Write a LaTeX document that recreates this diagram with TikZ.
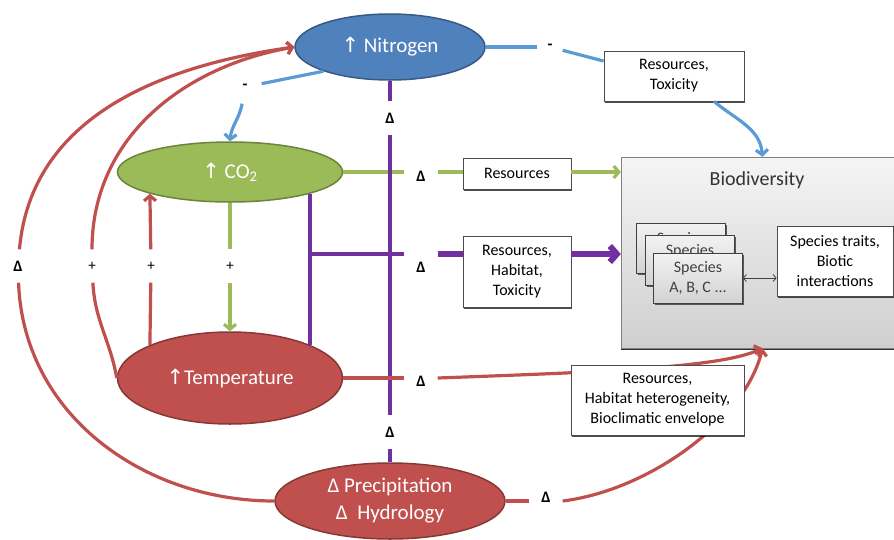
\documentclass[tikz,border=0pt]{standalone}
\usepackage{fontspec}
\setmainfont{Carlito}
\newfontfamily\arrfont{DejaVu Sans}
\usepackage{tikz}
\usetikzlibrary{shapes.geometric,arrows.meta,shadows,calc}
\definecolor{nblue}{HTML}{4F81BD}
\definecolor{lblue}{HTML}{5B9BD5}
\definecolor{cgreen}{HTML}{9BBB59}
\definecolor{tred}{HTML}{C0504D}
\definecolor{vpurple}{HTML}{7030A0}
\newcommand{\uparr}{{\arrfont ↑}}

\begin{document}
\begin{tikzpicture}[x=1pt, y=-1pt,
  ell/.style = {ellipse, draw=#1!70!black, fill=#1, line width=1.5pt, text=white, font=\fontsize{21}{27}\selectfont, align=center, inner sep=0pt},
  box/.style = {draw=black!70, fill=white, line width=0.8pt, align=center, font=\fontsize{16}{20}\selectfont, drop shadow={shadow xshift=1pt, shadow yshift=-1.5pt, fill=black, opacity=0.7}},
  spbox/.style = {draw=black!75, line width=0.8pt, top color=gray!10, bottom color=gray!35, minimum width=89pt, minimum height=50pt, text=black!75, align=center, font=\fontsize{16}{20}\selectfont, drop shadow={shadow xshift=1pt, shadow yshift=-1.5pt, fill=black, opacity=0.6}},
  splab/.style = {anchor=center, yshift=-17pt, text=black!75, font=\fontsize{16}{20}\selectfont},
  sym/.style = {minimum size=33pt, inner sep=0pt, font=\fontsize{16}{16}\selectfont\bfseries},
  blu/.style = {draw=lblue, line width=3.2pt},
  grn/.style = {draw=cgreen, line width=3.2pt},
  rd/.style = {draw=tred, line width=3.2pt},
  pur/.style = {draw=vpurple, line width=4pt},
  tip/.style = {-{Straight Barb[length=5pt,width=12pt]}}]
\useasboundingbox (0,0) rectangle (894,539);
\node[ell=nblue, minimum width=190pt, minimum height=66pt] (nit) at (390,47) {\uparr{} Nitrogen};
\node[ell=cgreen, minimum width=225pt, minimum height=60pt] (co2) at (230,172) {\uparr{} CO\textsubscript{2}};
\node[ell=tred, minimum width=225pt, minimum height=92pt] (temp) at (230,378) {\uparr Temperature};
\node[ell=tred, minimum width=230pt, minimum height=76pt] (prec) at (390,501) {Δ Precipitation\\Δ~~Hydrology};
\node[draw=black!50, top color=gray!8, bottom color=gray!38, minimum width=273pt, minimum height=191pt, drop shadow={shadow xshift=0pt, shadow yshift=-2pt, fill=black, opacity=0.8}] (bio) at (757.5,252.5) {};
\node[font=\fontsize{20}{24}\selectfont, text=black!80] (biot) at (757,180) {Biodiversity};
\node[spbox, label={[splab]north:Species}] (sp1) at (681,248) {};
\node[spbox, label={[splab]north:Species}] (sp2) at (690,260) {};
\node[spbox] (sp3) at (698,278) {Species\\A, B, C ...};
\node[box, minimum width=116pt, minimum height=70pt] (trt) at (835,261) {Species traits,\\Biotic\\interactions};
\draw[{Straight Barb[length=3pt,width=7pt]}-{Straight Barb[length=3pt,width=7pt]}, black!75, line width=0.8pt] (sp3.east) -- (sp3.east -| trt.west);
\node[box, minimum width=140pt, minimum height=50pt] (tox) at (674,76) {Resources,\\Toxicity};
\node[box, minimum width=108pt, minimum height=31pt] (res) at (517,173.5) {Resources};
\node[box, minimum width=108pt, minimum height=71pt] (hab) at (517,271.5) {Resources,\\Habitat,\\Toxicity};
\node[sym] (dn1) at (390,118) {Δ};
\node[sym] (dn2) at (390,432) {Δ};
\node[sym] (dg) at (421,176) {Δ};
\node[sym] (dp) at (421,267) {Δ};
\node[sym] (dt) at (421,381) {Δ};
\node[sym] (dpr) at (546,497) {Δ};
\node[sym] (dl) at (18,266) {Δ};
\node[sym, font=\fontsize{15}{15}\selectfont] (pl1) at (92,266) {+};
\node[sym, font=\fontsize{15}{15}\selectfont] (pl2) at (151,266) {+};
\node[sym, font=\fontsize{15}{15}\selectfont] (pl3) at (230,266) {+};
\node[sym, minimum size=25pt] (mn1) at (550,47) {-};
\node[sym] (mn2) at (245,87) {-};
\coordinate (bin) at ($(bio.south)+(5,0)$);
\coordinate (bon) at ($(bio.north)+(5,0)$);
\draw[grn] (co2.east) -- (co2.east -| dg.west);
\draw[grn] (dg.east |- co2.east) -- (res.west |- co2.east);
\draw[grn,tip] (res.east |- co2.east) -- (bio.west |- co2.east);
\draw[grn] (co2.south) -- (pl3);
\draw[grn,tip] (pl3) -- (temp.north);
\draw[pur] (nit.south) -- (dn1);
\draw[pur] (dn1) -- (dn2);
\draw[pur] (dn2) -- (prec.north);
\draw[pur] (co2.south east) -- (temp.north east);
\coordinate (jn) at (co2.south east |- 0,254);
\draw[pur] (jn) -- (jn -| dp.west);
\draw[vpurple, line width=6pt] (dp.east |- jn) -- (jn -| hab.west);
\draw[vpurple, line width=6pt, -{Straight Barb[length=7pt,width=16pt]}] (hab.east |- jn) -- (jn -| bio.west);
\draw[rd] (temp.north west) -- (pl2);
\draw[rd,tip] (pl2) -- (co2.south west);
\draw[rd] (temp.west) to[out=100,in=-87] (pl1);
\draw[rd,tip] (pl1) to[out=90,in=190] (nit.west);
\draw[rd] (prec.west) to[out=180,in=-88] (dl);
\draw[rd,tip] (dl) to[out=85,in=188] (nit.west);
\draw[rd] (temp.east) -- (temp.east -| dt.west);
\draw[rd,tip] (dt.east |- temp.east) .. controls (600,372) and (720,368) .. (bin);
\draw[rd] (prec.east) -- (prec.east -| dpr.west);
\draw[rd,tip] (dpr.east |- prec.east) .. controls (650,490) and (745,420) .. (bin);
\node[box, minimum width=173pt, minimum height=70pt] (het) at (657.5,400) {Resources,\\Habitat heterogeneity,\\Bioclimatic envelope};
\draw[blu] (nit.east) -- (mn1);
\draw[blu] (mn1) -- (tox.168);
\draw[blu,tip] ($(tox.south)+(40,0)$) to[out=-40,in=95] (bon);
\draw[blu] (nit.200) -- (mn2);
\draw[blu,tip] (mn2) to[out=-100,in=85] (co2.north);
\end{tikzpicture}
\end{document}
